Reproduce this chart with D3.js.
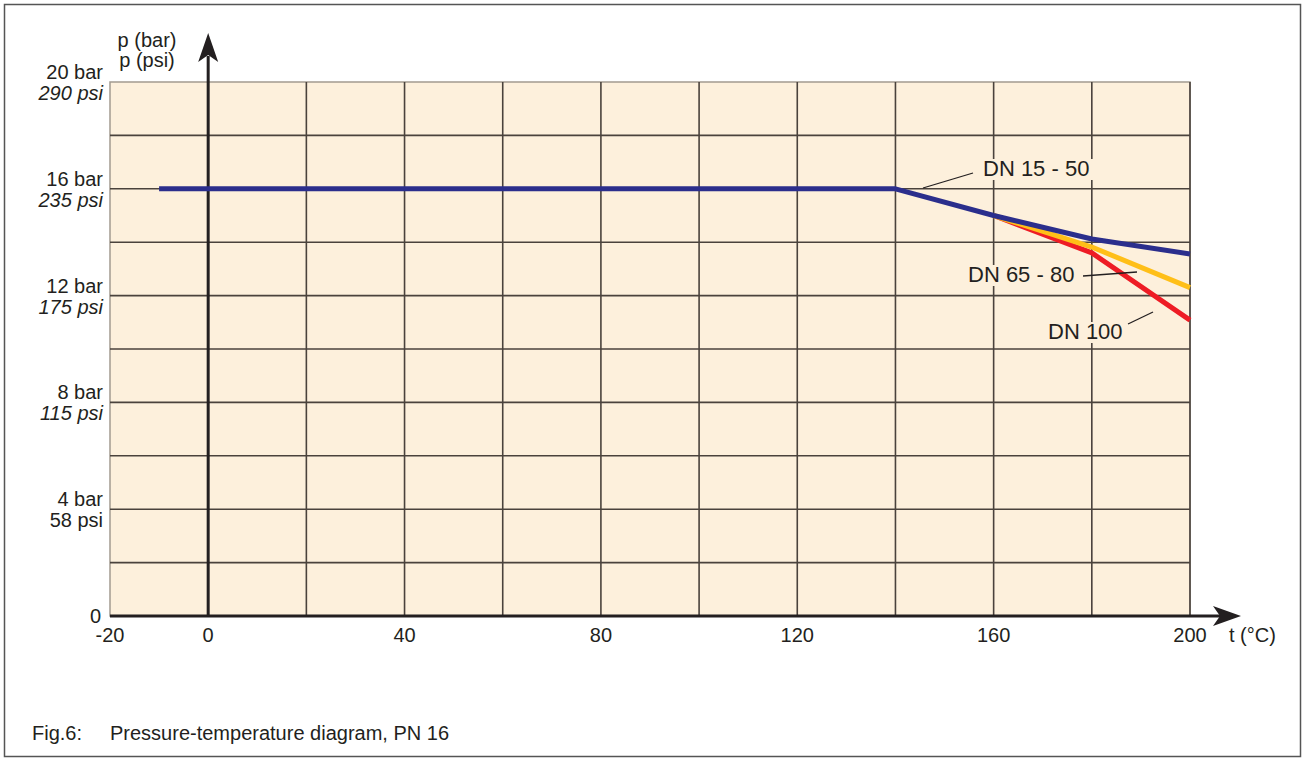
<!DOCTYPE html>
<html>
<head>
<meta charset="utf-8">
<script src="https://cdn.jsdelivr.net/npm/d3@7"></script>
<style>
  body { margin: 0; background: #fff; }
  svg { font-family: Arial, "Liberation Sans", sans-serif; }
</style>
</head>
<body>
<script>
const width = 1307;
const height = 759;

// data
const tempsDN15 = [-10, 140, 160, 180, 200];
const barDN15 = [16, 16, 15.0, 14.12, 13.56];
const tempsDN65 = [160, 180, 200];
const barDN65 = [15.0, 13.82, 12.3];
const tempsDN100 = [160, 180, 200];
const barDN100 = [15.0, 13.6, 11.08];

const xTicks = [-20, 0, 40, 80, 120, 160, 200];
const yBarLabels = ['20 bar', '16 bar', '12 bar', '8 bar', '4 bar'];
const yPsiLabels = ['290 psi', '235 psi', '175 psi', '115 psi', '58 psi'];
const yLabelValues = [20, 16, 12, 8, 4];
const psiItalic = [true, true, true, true, false];

const x = d3.scaleLinear().domain([-20, 200]).range([110, 1190]);
const y = d3.scaleLinear().domain([0, 20]).range([616, 82]);

const ink = '#231f20';

const svg = d3.select('body').append('svg')
  .attr('width', width)
  .attr('height', height);

svg.append('rect')
  .attr('x', 4.5).attr('y', 4.5)
  .attr('width', 1296).attr('height', 752)
  .attr('fill', 'none').attr('stroke', '#555').attr('stroke-width', 1.5);

// plot background
svg.append('rect')
  .attr('x', x(-20)).attr('y', y(20))
  .attr('width', x(200) - x(-20)).attr('height', y(0) - y(20))
  .attr('fill', '#fdf0dc')
  .attr('stroke', '#a39a90').attr('stroke-width', 1.5);

// grid
svg.append('g').selectAll('line')
  .data(d3.range(20, 201, 20))
  .enter().append('line')
    .attr('x1', d => x(d)).attr('x2', d => x(d))
    .attr('y1', y(0)).attr('y2', y(20))
    .attr('stroke', '#4a423c').attr('stroke-width', 1.6);

svg.append('g').selectAll('line')
  .data(d3.range(2, 19, 2))
  .enter().append('line')
    .attr('x1', x(-20)).attr('x2', x(200))
    .attr('y1', d => y(d)).attr('y2', d => y(d))
    .attr('stroke', '#4a423c').attr('stroke-width', 1.6);

// axes with arrows
svg.append('line')
  .attr('x1', x(-20)).attr('x2', 1222)
  .attr('y1', y(0)).attr('y2', y(0))
  .attr('stroke', ink).attr('stroke-width', 3);

svg.append('path')
  .attr('d', `M1241,${y(0)} L1213,${y(0) - 10} L1220,${y(0)} L1213,${y(0) + 10} Z`)
  .attr('fill', ink);

svg.append('line')
  .attr('x1', x(0)).attr('x2', x(0))
  .attr('y1', y(0)).attr('y2', 56)
  .attr('stroke', ink).attr('stroke-width', 3);

svg.append('path')
  .attr('d', `M${x(0)},33 L${x(0) - 10},62 L${x(0)},55 L${x(0) + 10},62 Z`)
  .attr('fill', ink);

// x tick labels
svg.append('g').selectAll('text')
  .data(xTicks)
  .enter().append('text')
    .attr('x', d => x(d))
    .attr('y', 642)
    .attr('text-anchor', 'middle')
    .attr('font-size', 20)
    .attr('fill', ink)
    .text(d => d);

svg.append('text')
  .attr('x', 1229).attr('y', 642)
  .attr('font-size', 20).attr('fill', ink)
  .text('t (°C)');

svg.append('text')
  .attr('x', 101).attr('y', 623)
  .attr('text-anchor', 'end')
  .attr('font-size', 20).attr('fill', ink)
  .text('0');

// y labels
const yl = svg.append('g').selectAll('g')
  .data(yLabelValues)
  .enter().append('g');

yl.append('text')
  .attr('x', 103)
  .attr('y', d => y(d) - 3)
  .attr('text-anchor', 'end')
  .attr('font-size', 20)
  .attr('fill', ink)
  .text((d, i) => yBarLabels[i]);

yl.append('text')
  .attr('x', 103)
  .attr('y', d => y(d) + 18)
  .attr('text-anchor', 'end')
  .attr('font-size', 20)
  .attr('font-style', (d, i) => psiItalic[i] ? 'italic' : 'normal')
  .attr('fill', ink)
  .text((d, i) => yPsiLabels[i]);

svg.append('text')
  .attr('x', 147).attr('y', 47)
  .attr('text-anchor', 'middle')
  .attr('font-size', 20).attr('fill', ink)
  .text('p (bar)');
svg.append('text')
  .attr('x', 147).attr('y', 67)
  .attr('text-anchor', 'middle')
  .attr('font-size', 20).attr('fill', ink)
  .text('p (psi)');

// curves
const line = d3.line().x(d => x(d[0])).y(d => y(d[1]));

const series = [
  { t: tempsDN100, p: barDN100, color: '#ee1c25' },
  { t: tempsDN65, p: barDN65, color: '#ffbf18' },
  { t: tempsDN15, p: barDN15, color: '#2b2e8c' }
];

svg.append('g').selectAll('path')
  .data(series)
  .enter().append('path')
    .attr('d', s => line(s.t.map((t, i) => [t, s.p[i]])))
    .attr('fill', 'none')
    .attr('stroke', s => s.color)
    .attr('stroke-width', 5)
    .attr('stroke-linejoin', 'round');

// annotations
const notes = [
  { text: 'DN 15 - 50', tx: 983, ty: 176, w: 108, lx1: 923, ly1: 188, lx2: 973, ly2: 173 },
  { text: 'DN 65 - 80', tx: 968, ty: 282, w: 110, lx1: 1083, ly1: 276, lx2: 1137, ly2: 272 },
  { text: 'DN 100', tx: 1048, ty: 339, w: 76, lx1: 1128, ly1: 324, lx2: 1153, ly2: 312 }
];

const ng = svg.append('g').selectAll('g')
  .data(notes)
  .enter().append('g');

ng.append('rect')
  .attr('x', d => d.tx - 3)
  .attr('y', d => d.ty - 17)
  .attr('width', d => d.w + 6)
  .attr('height', 21)
  .attr('fill', '#fdf0dc');

ng.append('text')
  .attr('x', d => d.tx)
  .attr('y', d => d.ty)
  .attr('font-size', 22)
  .attr('fill', ink)
  .text(d => d.text);

ng.append('line')
  .attr('x1', d => d.lx1).attr('y1', d => d.ly1)
  .attr('x2', d => d.lx2).attr('y2', d => d.ly2)
  .attr('stroke', ink).attr('stroke-width', 1.3);

// caption
svg.append('text')
  .attr('x', 32).attr('y', 740)
  .attr('font-size', 20).attr('fill', ink)
  .text('Fig.6:');
svg.append('text')
  .attr('x', 110).attr('y', 740)
  .attr('font-size', 20).attr('fill', ink)
  .text('Pressure-temperature diagram, PN 16');
</script>
</body>
</html>
